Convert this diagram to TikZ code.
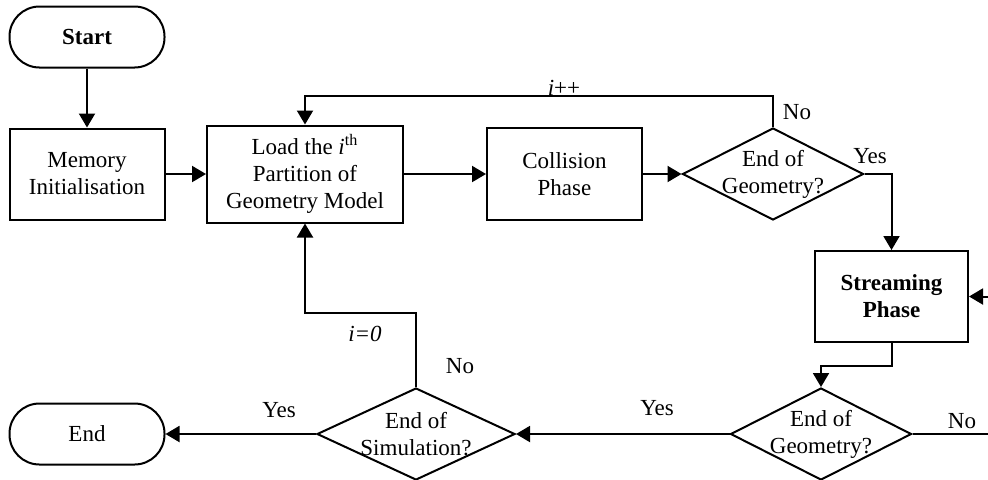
\documentclass[tikz,border=0pt]{standalone}
\usepackage{fontspec}
\setmainfont{Liberation Serif}
\usetikzlibrary{shapes.geometric,arrows.meta}

\begin{document}
\begin{tikzpicture}[x=0.5pt,y=-0.5pt,
  every node/.style={font=\fontsize{11.5}{13.5}\selectfont},
  terminal/.style={draw,line width=1pt,rounded corners=15pt,minimum width=77.5pt,minimum height=30.5pt},
  process/.style={draw,line width=1pt,align=center,minimum width=77.5pt,minimum height=45.5pt},
  decision/.style={draw,line width=1pt,diamond,inner sep=0pt,minimum width=90.5pt,minimum height=46pt},
  flow/.style={line width=1pt,-{Triangle[length=7pt,width=8pt]}},
  wire/.style={line width=1pt}]
  \useasboundingbox (0,0) rectangle (988,479);

  \node[terminal] (start) at (87,37) {\textbf{Start}};
  \node[process] (mem) at (87,174) {Memory\\Initialisation};
  \node[process,minimum width=98pt,minimum height=48.5pt] (load) at (305,174) {Load the \textit{i}\textsuperscript{th}\\Partition of\\Geometry Model};
  \node[process,minimum height=46pt] (coll) at (564.5,174) {Collision\\Phase};
  \node[decision] (geo1) at (773,174) {};
  \node[align=center] (geo1txt) at (geo1) {End of\\Geometry?};
  \node[process,minimum width=76.5pt] (stream) at (891.5,296.5) {\textbf{Streaming}\\\textbf{Phase}};
  \node[decision] (geo2) at (821,434) {};
  \node[align=center] (geo2txt) at (geo2) {End of\\Geometry?};
  \node[decision,minimum width=99pt] (sim) at (416,434) {};
  \node[align=center] (simtxt) at (sim) {End of\\Simulation?};
  \node[terminal] (end) at (87,434) {End};
  \coordinate (rin) at (988,296.5);
  \coordinate (rout) at (988,434);

  \node (inc) at (564,88) {\textit{i}++};
  \node (no1) at (797,112) {No};
  \node (yes1) at (870,156) {Yes};
  \node (no2) at (962,421) {No};
  \node (yes2) at (657,408) {Yes};
  \node (yes3) at (279,410) {Yes};
  \node (izero) at (365,334) {\textit{i=0}};
  \node (no3) at (460,366) {No};

  \foreach \a/\b in {start/mem,mem/load,load/coll,coll/geo1,geo2/sim,sim/end}
    \draw[flow] (\a) -- (\b);
  \draw[flow] (geo1.north) -- ++(0,-31) -| (load.north);
  \draw[flow] (geo1.east) -| (stream.north);
  \draw[flow] (rin) -- (stream.east);
  \draw[flow] (stream.south) -- ++(0,23) -| (geo2.north);
  \draw[wire] (geo2.east) -- (rout);
  \draw[flow] (sim.north) -- ++(0,-74) -| (load.south);
\end{tikzpicture}
\end{document}
